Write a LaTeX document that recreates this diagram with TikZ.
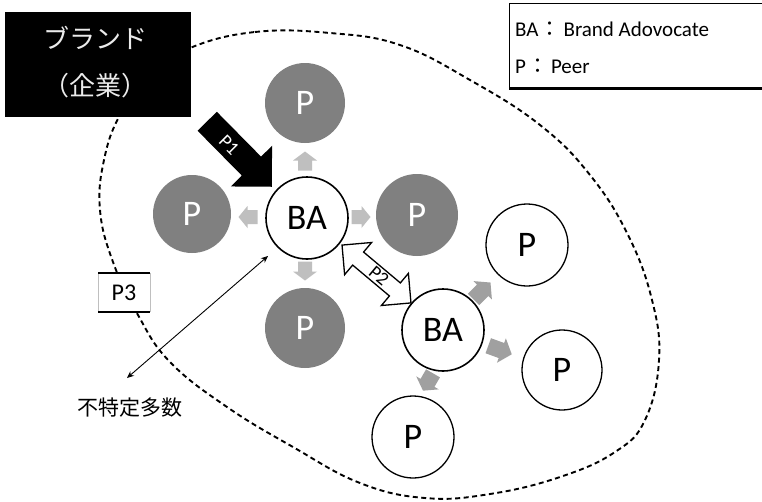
\documentclass[tikz,border=0pt]{standalone}
\usepackage{fontspec}
\setmainfont{Carlito}
\newfontfamily\cjk{Noto Sans CJK JP}
\usetikzlibrary{arrows.meta}
\definecolor{pgray}{HTML}{808080}
\definecolor{lgray}{HTML}{BFBFBF}
\definecolor{mgray}{HTML}{A0A0A0}
\newcommand\blockarr[8]{%
 \begin{scope}[shift={(#1,#2)},rotate=#3]
 \path[#8] ({-(#4)/2},-#5) -- ({(#4)/2-(#7)},-#5) -- ({(#4)/2-(#7)},-#6) -- ({(#4)/2},0)
   -- ({(#4)/2-(#7)},#6) -- ({(#4)/2-(#7)},#5) -- ({-(#4)/2},#5) -- cycle;
 \end{scope}}
\newcommand\dblarr[8]{%
 \begin{scope}[shift={(#1,#2)},rotate=#3]
 \path[#8] ({-(#4)/2},0) -- ({-(#4)/2+(#7)},-#6) -- ({-(#4)/2+(#7)},-#5) -- ({(#4)/2-(#7)},-#5)
   -- ({(#4)/2-(#7)},-#6) -- ({(#4)/2},0) -- ({(#4)/2-(#7)},#6) -- ({(#4)/2-(#7)},#5)
   -- ({-(#4)/2+(#7)},#5) -- ({-(#4)/2+(#7)},#6) -- cycle;
 \end{scope}}
\begin{document}
\begin{tikzpicture}[x=1pt,y=-1pt,
  grayP/.style={circle,fill=pgray,minimum size=80pt,inner sep=0pt,text=white,font=\fontsize{36}{36}\selectfont},
  whiteP/.style={circle,draw=black,line width=1.3pt,fill=white,minimum size=82pt,inner sep=0pt,font=\fontsize{36}{36}\selectfont},
  baC/.style={whiteP,line width=1.6pt},
  lightarr/.style={fill=lgray},
  midarr/.style={fill=mgray},
  legtxt/.style={anchor=west,inner sep=0pt,font=\fontsize{21}{21}\selectfont},
  jptxt/.style={inner sep=0pt,font=\cjk\fontsize{26}{26}\selectfont,text=black!8},
  arrlbl/.style={inner sep=0pt,font=\fontsize{19}{19}\selectfont},
  ellipsedash/.style={line width=1.9pt,dash pattern=on 5pt off 3.5pt}]
\useasboundingbox (0,0) rectangle (762,501);
\fill[white] (0,0) rectangle (762,501);

% dashed boundary
\draw[ellipsedash] plot[smooth cycle,tension=0.7] coordinates {
 (190,48) (255,32) (330,33) (400,45) (470,80) (540,125) (590,175) (628,235)
 (652,300) (659,360) (645,420) (615,452) (560,477) (490,494) (425,498)
 (360,483) (293,447) (227,407) (170,362) (138,315) (113,262) (100,210)
 (104,160) (120,115) (150,75)};

% brand box
\node[fill=black,minimum width=186pt,minimum height=105pt,inner sep=0pt] (brand) at (98,64.5) {};
\node[jptxt] (brand1) at (95.5,38) {ブランド};
\node[jptxt] (brand2) at (95.5,86) {（企業）};

% legend
\fill[white] (509,3) rectangle (765,89);
\draw[line width=1pt] (765,3) -- (509,3) -- (509,89);
\draw[line width=2.5pt] (509,88.5) -- (765,88.5);
\node[legtxt] (leg1) at (515,29) {BA\hspace{1pt}{\cjk ：}\hspace{3pt}Brand Adovocate};
\node[legtxt] (leg2) at (515,66) {P\hspace{1pt}{\cjk ：}\hspace{3pt}Peer};

% P3 box
\fill[white] (98,273) rectangle (150,312);
\draw[black!25,line width=0.8pt] (98,273) -- (98,312) (150,273) -- (150,312);
\draw[line width=2pt] (98,273) -- (150,273) (98,312) -- (150,312);
\node[inner sep=0pt,font=\fontsize{24}{24}\selectfont] (p3) at (124,293) {P3};

% gray peers around BA1
\node[grayP] (pt) at (305,103) {P};
\node[grayP,minimum size=78pt] (pl) at (192,214) {P};
\node[grayP,minimum size=82pt] (pr) at (417,215) {P};
\node[grayP] (pb) at (305,328) {P};

% BA nodes
\node[baC] (ba1) at (307,218) {BA};
\node[baC] (ba2) at (443,330) {BA};

% white peers
\node[whiteP] (wp1) at (527,245) {P};
\node[whiteP,minimum size=80pt] (wp2) at (562,370) {P};
\node[whiteP] (wp3) at (413,437) {P};

% small arrows around BA1
\blockarr{305}{161}{90}{19}{7}{12}{9}{lightarr}
\blockarr{248}{217}{180}{19}{7}{11}{9}{lightarr}
\blockarr{361}{217}{0}{19}{7}{11}{9}{lightarr}
\blockarr{305}{271}{-90}{19}{7}{12}{9}{lightarr}

% arrows around BA2
\blockarr{482}{291}{45}{24}{8}{13}{11}{midarr}
\blockarr{500}{350}{-20}{25}{8}{13}{11}{midarr}
\blockarr{428}{382}{-120}{20}{8}{13}{9}{midarr}

% P1 arrow
\blockarr{239.5}{154}{-45.4}{92}{13.5}{29}{29}{fill=black}
\node[arrlbl,text=white,rotate=-45] (p1) at (229,145) {P1};

% P2 double arrow
\dblarr{376.5}{274}{-40}{90}{8.5}{21}{21}{draw=black,line width=1.3pt,fill=white,line join=miter}
\node[arrlbl,rotate=-40] (p2) at (379,276) {P2};

% unspecified many
\coordinate (t1) at (268,256);
\coordinate (t2) at (127,378);
\draw[line width=0.9pt,{Stealth[length=7pt,width=6pt]}-{Stealth[length=7pt,width=6pt]}] (t2) -- (t1);
\node[inner sep=0pt,font=\cjk\fontsize{21}{21}\selectfont] (many) at (130,408) {不特定多数};
\end{tikzpicture}
\end{document}
